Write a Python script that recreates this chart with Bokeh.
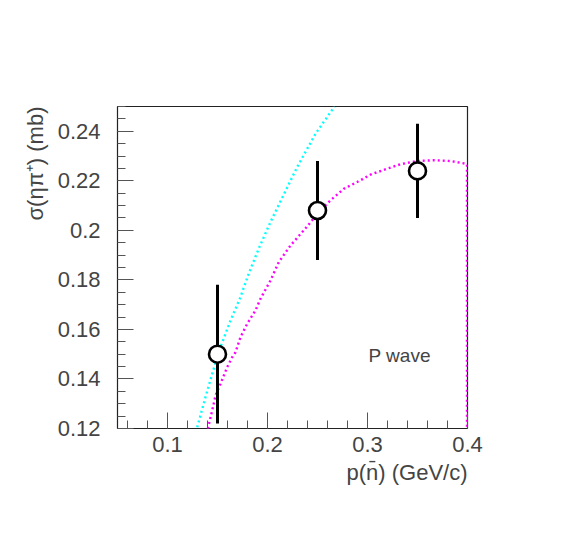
from bokeh.plotting import figure
from bokeh.models import FixedTicker, Range1d, ColumnDataSource, Title
from bokeh.core.properties import value
from bokeh.embed import file_html
from bokeh.resources import INLINE

# data points
p_mom = [0.15, 0.25, 0.35]
sigma = [0.150, 0.208, 0.224]
sigma_err = [0.028, 0.020, 0.019]

# cyan curve
cyan_x = [0.1297, 0.138, 0.1447, 0.153, 0.163, 0.173, 0.1813, 0.1913, 0.203, 0.2297, 0.248, 0.267]
cyan_y = [0.1205, 0.1327, 0.1421, 0.1529, 0.1636, 0.1731, 0.1826, 0.1927, 0.2034, 0.2256, 0.239, 0.250]

# magenta curve
mag_x = [0.1403, 0.1447, 0.148, 0.153, 0.1597, 0.1647, 0.168, 0.173, 0.1797, 0.188, 0.193, 0.203,
         0.2113, 0.223, 0.2363, 0.253, 0.263, 0.2763, 0.2897, 0.303, 0.3197, 0.333, 0.3497,
         0.3663, 0.383, 0.398, 0.3995, 0.3995]
mag_y = [0.1199, 0.1273, 0.1333, 0.1381, 0.1448, 0.1488, 0.1508, 0.1569, 0.1623, 0.1677, 0.1724, 0.1798,
         0.1872, 0.1939, 0.2000, 0.2081, 0.2121, 0.2168, 0.2195, 0.2225, 0.2249, 0.2267, 0.2280,
         0.2283, 0.2280, 0.2269, 0.2265, 0.115]

x_ticks = [0.1, 0.2, 0.3, 0.4]
y_ticks = [0.12, 0.14, 0.16, 0.18, 0.2, 0.22, 0.24]
x_title = "p(n\u0304) (GeV/c)"
y_title = "\u03c3(\u03b7\u03c0\u207a) (mb)"

FONT = "Liberation Sans"
TXT = "#444444"

p = figure(width=558, height=520, output_backend="svg", toolbar_location=None,
           x_range=Range1d(0.05, 0.4), y_range=Range1d(0.12, 0.25),
           min_border_left=117, min_border_right=91, min_border_top=106, min_border_bottom=92)
p.grid.visible = False
p.outline_line_color = "#222222"
p.outline_line_width = 1.2
p.background_fill_color = "white"
p.border_fill_color = "white"

p.line(cyan_x, cyan_y, line_color="#00ffff", line_width=2.4, line_dash="2 3")
p.line(mag_x, mag_y, line_color="#ff00ff", line_width=2.4, line_dash="2 3")

lo = [s - e for s, e in zip(sigma, sigma_err)]
hi = [s + e for s, e in zip(sigma, sigma_err)]
src = ColumnDataSource(dict(x=p_mom, y=sigma, lo=lo, hi=hi))
p.segment(x0="x", y0="lo", x1="x", y1="hi", source=src, line_color="black", line_width=3)
p.scatter(x="x", y="y", source=src, marker="circle", size=17, fill_color="white",
          line_color="black", line_width=2.6)

p.text(x=[0.301], y=[0.1495], text=["P wave"], text_font=value(FONT), text_font_size="19px",
       text_color=TXT, text_baseline="alphabetic", text_align="left")

minor_x = [round(0.06 + 0.02 * i, 2) for i in range(18)]
minor_y = [round(0.12 + 0.005 * i, 3) for i in range(27)]
p.xaxis.ticker = FixedTicker(ticks=x_ticks, minor_ticks=minor_x)
p.yaxis.ticker = FixedTicker(ticks=y_ticks, minor_ticks=minor_y)

for ax in (p.xaxis[0], p.yaxis[0]):
    ax.axis_line_color = None
    ax.major_tick_in = 16
    ax.major_tick_out = 0
    ax.minor_tick_in = 8
    ax.minor_tick_out = 0
    ax.major_tick_line_color = "#555555"
    ax.minor_tick_line_color = "#555555"
    ax.major_label_text_font = FONT
    ax.major_label_text_font_size = "22px"
    ax.major_label_text_color = TXT

p.xaxis.major_label_standoff = 8
p.yaxis.major_label_standoff = 17

xt = Title(text=x_title, align="right", text_font=FONT, text_font_size="22px",
           text_font_style="normal", text_color=TXT, standoff=6)
yt = Title(text=y_title, align="right", text_font=FONT, text_font_size="22px",
           text_font_style="normal", text_color=TXT, standoff=14)
p.add_layout(xt, "below")
p.add_layout(yt, "left")

open("out.html", "w").write(file_html(p, INLINE))
